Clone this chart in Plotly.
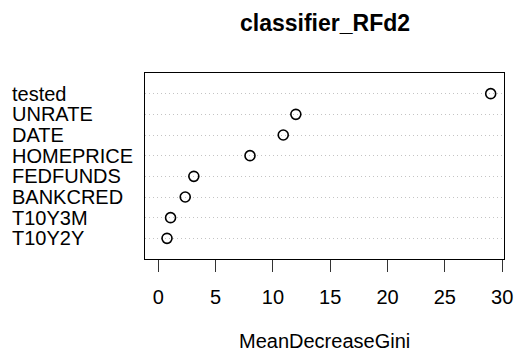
import plotly.graph_objects as go

features = ["tested", "UNRATE", "DATE", "HOMEPRICE", "FEDFUNDS", "BANKCRED", "T10Y3M", "T10Y2Y"]
gini = [29.0, 12.0, 10.9, 8.0, 3.1, 2.35, 1.07, 0.76]
x_ticks = [0, 5, 10, 15, 20, 25, 30]
title_text = "classifier_RFd2"
xlabel_text = "MeanDecreaseGini"

n = len(features)
ypos = [n - i for i in range(n)]  # top item at highest position

FONT = "Liberation Sans, Arial, Helvetica, sans-serif"

fig = go.Figure()
fig.add_trace(go.Scatter(
    x=gini, y=ypos, mode="markers",
    marker=dict(symbol="circle-open", size=10, color="black", line=dict(width=1.6, color="black")),
    hoverinfo="skip", showlegend=False,
))

annotations = []
for name, yy in zip(features, ypos):
    annotations.append(dict(
        text=name, x=-0.375, xref="paper", y=yy, yref="y",
        xanchor="left", yanchor="middle", showarrow=False,
        font=dict(family=FONT, size=20, color="black"),
    ))
annotations.append(dict(
    text=xlabel_text, x=0.5, xref="paper", y=-0.44, yref="paper",
    xanchor="center", yanchor="middle", showarrow=False,
    font=dict(family=FONT, size=20, color="black"),
))
annotations.append(dict(
    text="<b>" + title_text + "</b>", x=0.5, xref="paper", y=1.27, yref="paper",
    xanchor="center", yanchor="middle", showarrow=False,
    font=dict(family=FONT, size=23, color="black"),
))

fig.update_layout(
    width=523, height=354,
    margin=dict(l=145, r=10, t=73, b=95),
    paper_bgcolor="white", plot_bgcolor="white",
    annotations=annotations,
    xaxis=dict(
        range=[-1.16, 30.16], tickvals=x_ticks, ticktext=[str(v) for v in x_ticks],
        ticks="outside", ticklen=12, tickwidth=1, tickcolor="#333",
        showgrid=False, zeroline=False,
        showline=True, linecolor="black", linewidth=1, mirror=True,
        tickfont=dict(family=FONT, size=20, color="black"),
        ticklabelstandoff=8,
    ),
    yaxis=dict(
        range=[0, n + 1], tickvals=ypos, showticklabels=False, ticks="",
        showgrid=True, gridcolor="#c4c4c4", gridwidth=1, griddash="1px,3px",
        zeroline=False,
        showline=True, linecolor="black", linewidth=1, mirror=True,
    ),
)

fig.write_html("out.html")
